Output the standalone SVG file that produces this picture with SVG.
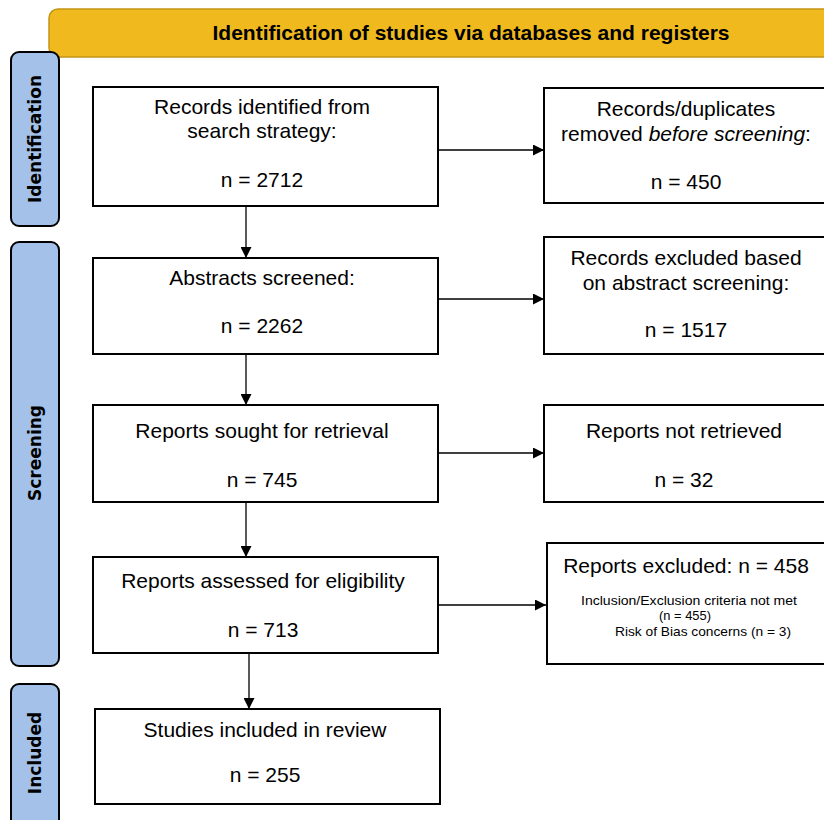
<svg xmlns="http://www.w3.org/2000/svg" width="824" height="820" viewBox="0 0 824 820">
<defs>
<marker id="arr" viewBox="0 0 10 10" refX="10" refY="5" markerWidth="11" markerHeight="11" markerUnits="userSpaceOnUse" orient="auto">
<path d="M0,0 L10,5 L0,10 z" fill="#000"/>
</marker>
<style>
.box{fill:#fff;stroke:#000;stroke-width:2}
.side{fill:#a4c2e9;stroke:#000;stroke-width:2}
.t{font-family:"Liberation Sans",Arial,sans-serif;font-size:21px;fill:#000;text-anchor:middle}
.s{font-family:"Liberation Sans",Arial,sans-serif;font-size:13px;fill:#000;text-anchor:middle}
.b{font-family:"Liberation Sans",Arial,sans-serif;font-weight:bold;font-size:21px;fill:#000;text-anchor:middle}
.v{font-family:"DejaVu Sans",Verdana,sans-serif;font-weight:bold;font-size:17px;fill:#000;text-anchor:middle}
.c{stroke:#000;stroke-width:1.3;fill:none;marker-end:url(#arr)}
</style>
</defs>
<rect width="824" height="820" fill="#fff"/>
<g id="banner">
<rect x="49" y="9" width="800" height="48" rx="9" fill="#f0ba1f" stroke="#c49515" stroke-width="1.5"/>
<text class="b" x="471" y="40">Identification of studies via databases and registers</text>
</g>
<g id="side-identification">
<rect class="side" x="11" y="52" width="48" height="174" rx="8"/>
<text class="v" transform="translate(41,139) rotate(-90)">Identification</text>
</g>
<g id="side-screening">
<rect class="side" x="11" y="242" width="48" height="424" rx="8"/>
<text class="v" transform="translate(41,453) rotate(-90)">Screening</text>
</g>
<g id="side-included">
<rect class="side" x="11" y="684" width="48" height="150" rx="8"/>
<text class="v" transform="translate(41,753) rotate(-90)">Included</text>
</g>
<g id="n1">
<rect class="box" x="93" y="87" width="345" height="119"/>
<text class="t" x="262" y="114">Records identified from</text>
<text class="t" x="262" y="138">search strategy:</text>
<text class="t" x="262" y="187">n = 2712</text>
</g>
<g id="n2">
<rect class="box" x="544" y="88" width="300" height="115"/>
<text class="t" x="686" y="116">Records/duplicates</text>
<text class="t" x="686" y="141">removed <tspan font-style="italic">before screening</tspan>:</text>
<text class="t" x="686" y="189">n = 450</text>
</g>
<g id="n3">
<rect class="box" x="93" y="258" width="345" height="96"/>
<text class="t" x="262" y="285">Abstracts screened:</text>
<text class="t" x="262" y="333">n = 2262</text>
</g>
<g id="n4">
<rect class="box" x="544" y="237" width="300" height="117"/>
<text class="t" x="686" y="265">Records excluded based</text>
<text class="t" x="686" y="290">on abstract screening:</text>
<text class="t" x="686" y="337">n = 1517</text>
</g>
<g id="n5">
<rect class="box" x="93" y="405" width="345" height="97"/>
<text class="t" x="262" y="438">Reports sought for retrieval</text>
<text class="t" x="262" y="487">n = 745</text>
</g>
<g id="n6">
<rect class="box" x="544" y="405" width="300" height="97"/>
<text class="t" x="684" y="438">Reports not retrieved</text>
<text class="t" x="684" y="487">n = 32</text>
</g>
<g id="n7">
<rect class="box" x="93" y="557" width="345" height="96"/>
<text class="t" x="263" y="588">Reports assessed for eligibility</text>
<text class="t" x="263" y="637">n = 713</text>
</g>
<g id="n8">
<rect class="box" x="547" y="543" width="300" height="121"/>
<text class="t" x="686" y="573">Reports excluded: n = 458</text>
<text class="s" x="689" y="605" textLength="216" lengthAdjust="spacingAndGlyphs">Inclusion/Exclusion criteria not met</text>
<text class="s" x="685" y="620" textLength="52" lengthAdjust="spacingAndGlyphs">(n = 455)</text>
<text class="s" x="703" y="636" textLength="176" lengthAdjust="spacingAndGlyphs">Risk of Bias concerns (n = 3)</text>
</g>
<g id="n9">
<rect class="box" x="95" y="709" width="345" height="95"/>
<text class="t" x="265" y="737">Studies included in review</text>
<text class="t" x="265" y="782">n = 255</text>
</g>
<g id="connectors">
<line class="c" x1="246" y1="206" x2="246" y2="258"/>
<line class="c" x1="246" y1="354" x2="246" y2="405"/>
<line class="c" x1="246" y1="502" x2="246" y2="557"/>
<line class="c" x1="249" y1="653" x2="249" y2="709"/>
<line class="c" x1="438" y1="150" x2="544" y2="150"/>
<line class="c" x1="438" y1="299" x2="544" y2="299"/>
<line class="c" x1="438" y1="453" x2="544" y2="453"/>
<line class="c" x1="438" y1="605" x2="546" y2="605"/>
</g>
</svg>
